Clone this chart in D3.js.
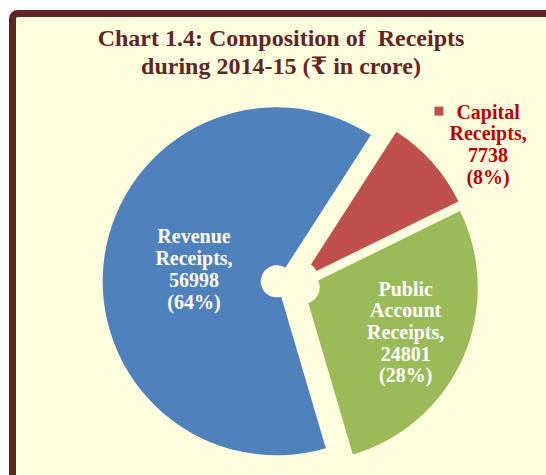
<!DOCTYPE html>
<html>
<head>
<meta charset="utf-8">
<script src="https://cdn.jsdelivr.net/npm/d3@7"></script>
<style>
  html, body { margin: 0; padding: 0; background: #ffffff; }
  text { font-family: "Liberation Serif", "Times New Roman", "DejaVu Serif", serif; font-weight: bold; }
</style>
</head>
<body>
<div id="chart"></div>
<script>
// data
const categories = ['Revenue Receipts', 'Capital Receipts', 'Public Account Receipts'];
const labelLines = [['Revenue', 'Receipts,'], ['Capital', 'Receipts,'], ['Public', 'Account', 'Receipts,']];
const values = [56998, 7738, 24801];
const pctLabels = ['(64%)', '(8%)', '(28%)'];
const titleLines = ['Chart 1.4: Composition of\u00a0 Receipts', 'during 2014-15 (\u20b9 in crore)'];

const width = 546;
const height = 475;
const colors = ['#4f81bd', '#c0504d', '#9bbb59'];
const bg = '#ffffe0';
const frameColor = '#632523';

const cx = 295.5;
const cy = 284;
const radius = 174;
const hole = 16;
const explode = [19, 9, 9];
// label placement: fraction of radius, angle shift in degrees
const labelPlace = [[0.48, 0], [1.315, 6], [0.64, 0]];
const labelFill = ['#ffffff', '#c00000', '#ffffff'];
const fontSize = 20;
const lineH = 21.7;

const rad = Math.PI / 180;
const start = 163.6 * rad;

const svg = d3.select('#chart').append('svg')
  .attr('width', width)
  .attr('height', height);

// frame: border only shows on top and left, runs off the picture
svg.append('rect')
  .attr('x', 12.5)
  .attr('y', 13.5)
  .attr('width', width + 20)
  .attr('height', height + 20)
  .attr('rx', 5)
  .attr('fill', bg)
  .attr('stroke', frameColor)
  .attr('stroke-width', 7);

var title = svg.append('text')
  .attr('text-anchor', 'middle')
  .attr('fill', frameColor)
  .style('font-size', '24px');
titleLines.forEach(function(t, i) {
  title.append('tspan')
    .attr('x', 281)
    .attr('y', 46 + i * 28)
    .text(t);
});

var pie = d3.pie().sort(null).startAngle(start).endAngle(start + 2 * Math.PI);
var arcs = pie(values);
var arc = d3.arc().innerRadius(hole).outerRadius(radius);

var slices = svg.append('g').attr('class', 'slices');
arcs.forEach(function(d, i) {
  var mid = (d.startAngle + d.endAngle) / 2;
  var ox = cx + explode[i] * Math.sin(mid);
  var oy = cy - explode[i] * Math.cos(mid);
  slices.append('path')
    .attr('transform', 'translate(' + ox + ',' + oy + ')')
    .attr('d', arc(d))
    .attr('fill', colors[i]);
  d.ox = ox;
  d.oy = oy;
  d.mid = mid;
});

var labels = svg.append('g').attr('class', 'labels');
arcs.forEach(function(d, i) {
  var a = d.mid + labelPlace[i][1] * rad;
  var r = radius * labelPlace[i][0];
  var lx = d.ox + r * Math.sin(a);
  var ly = d.oy - r * Math.cos(a);
  var lines = labelLines[i].concat([d3.format('d')(values[i]), pctLabels[i]]);
  var top = ly - (lines.length - 1) * lineH / 2 + fontSize * 0.33;
  var t = labels.append('text')
    .attr('text-anchor', 'middle')
    .attr('fill', labelFill[i])
    .style('font-size', fontSize + 'px');
  lines.forEach(function(s, j) {
    t.append('tspan')
      .attr('x', lx)
      .attr('y', top + j * lineH)
      .text(s);
  });
  // capital receipts label carries a legend key
  if (i === 1) {
    var bb = t.select('tspan').node().getComputedTextLength();
    labels.append('rect')
      .attr('x', lx - bb / 2 - 22)
      .attr('y', top - 12)
      .attr('width', 9)
      .attr('height', 9)
      .attr('fill', colors[i]);
  }
});
</script>
</body>
</html>
